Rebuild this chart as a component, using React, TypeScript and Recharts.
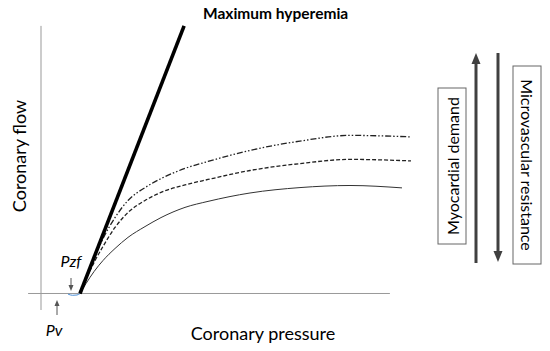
import { ComposedChart, Line, XAxis, YAxis, ReferenceLine } from "recharts";

// coronary pressure (p) vs coronary flow (f), arbitrary units
const maxHyperemia = [
  { p: 13, f: 0 },
  { p: 47.7, f: 89.2 },
];

const solidCurve = [
  { p: 13, f: 0 },
  { p: 15, f: 3.3 },
  { p: 17.67, f: 7.3 },
  { p: 20.67, f: 11 },
  { p: 24.67, f: 15 },
  { p: 29, f: 18.7 },
  { p: 34.67, f: 22.3 },
  { p: 40, f: 25.3 },
  { p: 48, f: 28.7 },
  { p: 55.67, f: 30.7 },
  { p: 69.67, f: 33.5 },
  { p: 86.33, f: 35.3 },
  { p: 103, f: 36 },
  { p: 120.33, f: 35.2 },
];

const dashedCurve = [
  { p: 13, f: 0 },
  { p: 15, f: 4.7 },
  { p: 17.67, f: 10.3 },
  { p: 20.67, f: 15.7 },
  { p: 24.67, f: 22 },
  { p: 29, f: 27 },
  { p: 34.67, f: 31 },
  { p: 40, f: 33.7 },
  { p: 48, f: 36.2 },
  { p: 55.67, f: 38 },
  { p: 69.67, f: 41 },
  { p: 86.33, f: 43.3 },
  { p: 103, f: 44.7 },
  { p: 123.33, f: 44.2 },
];

const dashDotCurve = [
  { p: 13, f: 0 },
  { p: 15, f: 5 },
  { p: 17.67, f: 11.7 },
  { p: 20.67, f: 18.3 },
  { p: 24.67, f: 25.3 },
  { p: 29, f: 31 },
  { p: 34.67, f: 35.3 },
  { p: 40, f: 38.3 },
  { p: 48, f: 41.7 },
  { p: 55.67, f: 44 },
  { p: 69.67, f: 47.7 },
  { p: 86.33, f: 50.8 },
  { p: 103, f: 52.7 },
  { p: 123.33, f: 52.2 },
];

const pzfArc = [
  { p: 9, f: -0.2 },
  { p: 10.5, f: -0.6 },
  { p: 12, f: -0.5 },
  { p: 13, f: 0 },
];

const FONT = "Lato, 'Open Sans', sans-serif";

const App = () => {
  return (
    <div style={{ position: "absolute", left: 0, top: 0, width: 550, height: 351, background: "#fff" }}>
      <ComposedChart width={550} height={351} margin={{ top: 0, right: 0, bottom: 0, left: 0 }}>
        <XAxis type="number" dataKey="p" domain={[-13.67, 169.67]} allowDataOverflow hide />
        <YAxis type="number" dataKey="f" domain={[-19.17, 97.83]} allowDataOverflow hide />

        {/* axes drawn as crossing segments */}
        <ReferenceLine segment={[{ x: 0, y: -5.5 }, { x: 0, y: 89.2 }]} stroke="#999" strokeWidth={1} ifOverflow="visible" />
        <ReferenceLine segment={[{ x: -4.3, y: 0 }, { x: 116.3, y: 0 }]} stroke="#999" strokeWidth={1} ifOverflow="visible" />

        <Line data={solidCurve} dataKey="f" type="monotone" stroke="#333" strokeWidth={1} dot={false} activeDot={false} isAnimationActive={false} />
        <Line data={dashedCurve} dataKey="f" type="monotone" stroke="#222" strokeWidth={1.3} strokeDasharray="4 2" dot={false} activeDot={false} isAnimationActive={false} />
        <Line data={dashDotCurve} dataKey="f" type="monotone" stroke="#222" strokeWidth={1.3} strokeDasharray="6 2 1.5 2 1.5 2" dot={false} activeDot={false} isAnimationActive={false} />
        <Line data={pzfArc} dataKey="f" type="monotone" stroke="#4a8fd8" strokeWidth={1} strokeLinecap="butt" dot={false} activeDot={false} isAnimationActive={false} />
        <Line data={maxHyperemia} dataKey="f" type="linear" stroke="#000" strokeWidth={3.6} dot={false} activeDot={false} isAnimationActive={false} />
      </ComposedChart>

      <svg width={550} height={351} style={{ position: "absolute", left: 0, top: 0, pointerEvents: "none" }}>
        <text x={203} y={19} fontFamily={FONT} fontSize={15.5} fontWeight="bold" fill="#000">Maximum hyperemia</text>
        <text x={19} y={156} fontFamily={FONT} fontSize={18} fill="#000" textAnchor="middle" dominantBaseline="central" transform="rotate(-90 19 156)">Coronary flow</text>
        <text x={263} y={333} fontFamily={FONT} fontSize={18} fill="#000" textAnchor="middle" dominantBaseline="central">Coronary pressure</text>

        <text x={71} y={260} fontFamily={FONT} fontSize={16} fontStyle="italic" fill="#000" textAnchor="middle" dominantBaseline="central">Pzf</text>
        <line x1={71} y1={278} x2={71} y2={286} stroke="#555" strokeWidth={1} />
        <polygon points="71,291 68.5,285 73.5,285" fill="#555" />
        <text x={54} y={329} fontFamily={FONT} fontSize={16} fontStyle="italic" fill="#000" textAnchor="middle" dominantBaseline="central">Pv</text>
        <line x1={57} y1={315} x2={57} y2={305} stroke="#555" strokeWidth={1} />
        <polygon points="57,300 54.5,306 59.5,306" fill="#555" />

        <line x1={476} y1={263} x2={476} y2={62} stroke="#404040" strokeWidth={3} />
        <polygon points="476,53 471.5,64 480.5,64" fill="#404040" />
        <line x1={498} y1={53} x2={498} y2={253} stroke="#404040" strokeWidth={3} />
        <polygon points="498,262 493.5,251 502.5,251" fill="#404040" />

        <rect x={438} y={88} width={28} height={156} fill="#fff" stroke="#666" strokeWidth={1} />
        <text x={452} y={166} fontFamily={FONT} fontSize={16} fill="#000" textAnchor="middle" dominantBaseline="central" transform="rotate(-90 452 166)">Myocardial demand</text>
        <rect x={513} y={66} width={28} height={198} fill="#fff" stroke="#666" strokeWidth={1} />
        <text x={527} y={165} fontFamily={FONT} fontSize={16} fill="#000" textAnchor="middle" dominantBaseline="central" transform="rotate(90 527 165)">Microvascular resistance</text>
      </svg>
    </div>
  );
};

export default App;
